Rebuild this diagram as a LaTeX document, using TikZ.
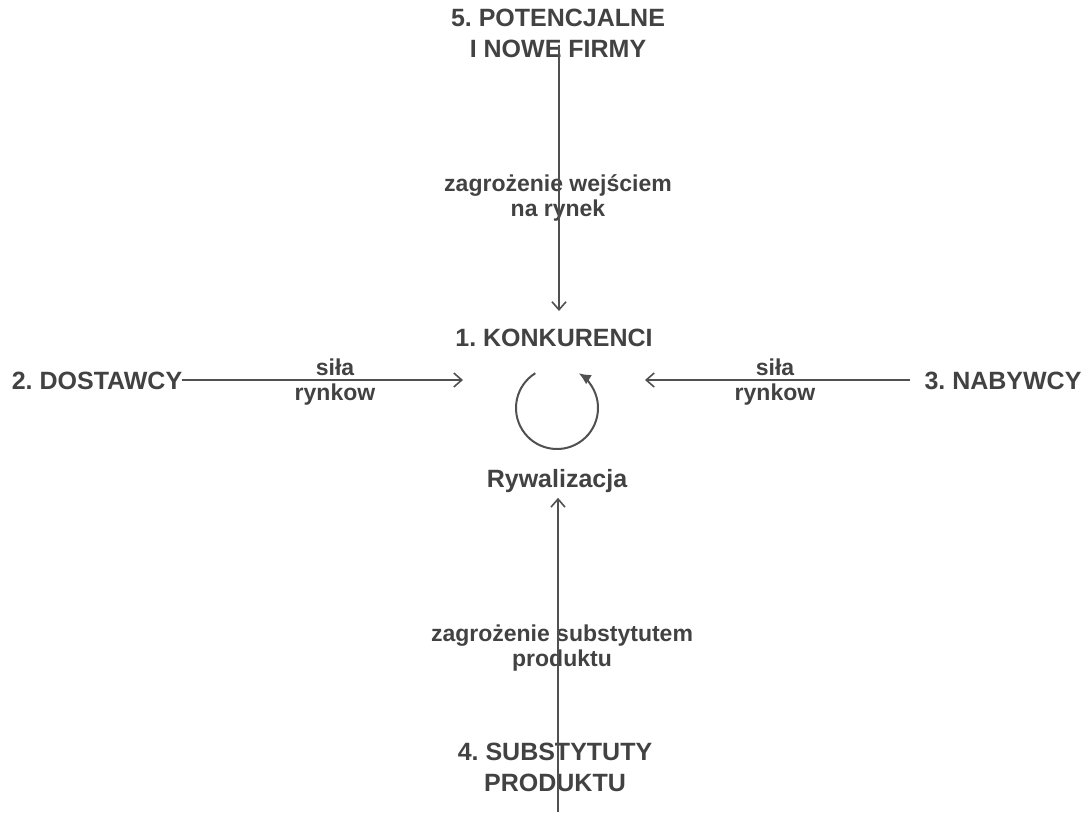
\documentclass[tikz,border=0pt]{standalone}
\usepackage{fontspec}
\setmainfont{Liberation Sans}
\usetikzlibrary{arrows.meta, positioning}
\definecolor{ink}{HTML}{424242}
\definecolor{pen}{HTML}{505050}
\frenchspacing

\begin{document}
\begin{tikzpicture}[x=1pt, y=-1pt,
  big/.style={font=\bfseries\fontsize{25}{31}\selectfont, text=ink, align=center, inner sep=0pt},
  small/.style={font=\bfseries\fontsize{23}{25}\selectfont, text=ink, align=center, inner sep=0pt},
  force/.style={draw=pen, line width=1.6pt, -{Straight Barb[length=8pt, width=14pt, line width=1.6pt]}}]
  \useasboundingbox (0,0) rectangle (1092,812);

  % uczestnicy
  \node[big] (nowe) at (558,33) {5. POTENCJALNE\\I NOWE FIRMY};
  \node[big] (konk) at (554,338) {1. KONKURENCI};
  \node[big] (ryw) at (557,481) {Rywalizacja};
  \node[big] (dost) at (97,381) {2. DOSTAWCY};
  \node[big] (nab) at (1003,381) {3. NABYWCY};
  \node[big] (subst) at (555,767) {4. SUBSTYTUTY\\PRODUKTU};
  \node (rot) at (557,408) {};

  % opisy strzalek
  \node[small] (wejscie) at (558,198) {zagrożenie wejściem\\na rynek};
  \node[small] (silaL) at (335,382) {siła\\rynkow};
  \node[small] (silaP) at (775,382) {siła\\rynkow};
  \node[small] (zamiennik) at (562,648) {zagrożenie substytutem\\produktu};

  % strzalki
  \coordinate (topstart) at (559,45);
  \coordinate (botstart) at (558,812);
  \coordinate (ltip) at (463,380);
  \coordinate (rtip) at (645,380);
  \draw[force, shorten >=18pt] (topstart) -- (topstart |- konk.north);
  \draw[force, shorten >=5pt] (botstart) -- (botstart |- ryw.south);
  \draw[force] (dost.east |- ltip) -- (ltip);
  \draw[force, shorten <=14pt] (nab.west |- rtip) -- (rtip);

  % rywalizacja
  \draw[pen, line width=2pt, -{Latex[length=12pt, width=11pt]}]
    (rot.center) ++(-122:41) arc[start angle=-122, end angle=-418, radius=41];
\end{tikzpicture}
\end{document}
